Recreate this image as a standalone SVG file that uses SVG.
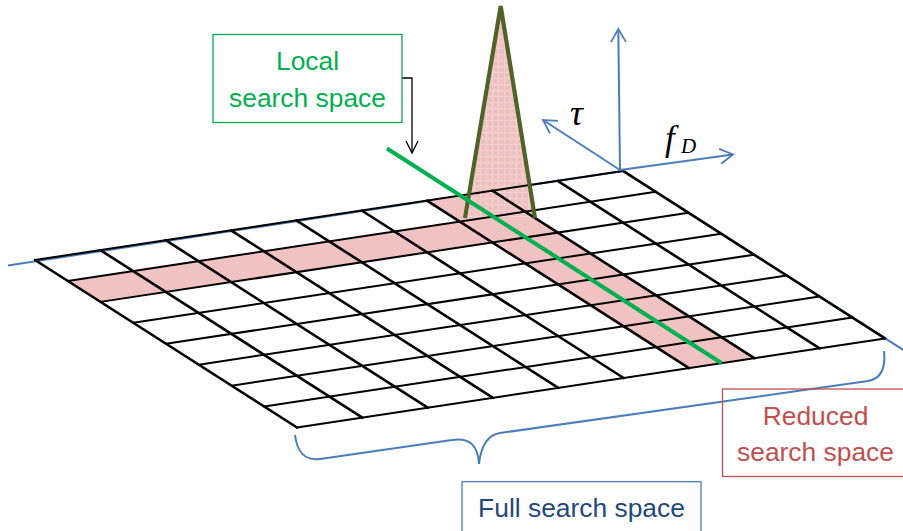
<svg xmlns="http://www.w3.org/2000/svg" width="903" height="531" viewBox="0 0 903 531">
<style>
.row{stroke:#000;stroke-width:2;fill:none;stroke-linecap:round}
.col{stroke:#000;stroke-width:2.6;fill:none;stroke-linecap:round}
.pink{fill:#f0c2c2;stroke:none}
.axis{stroke:#4a7ebb;stroke-width:2;fill:none;marker-end:url(#blueArrow)}
.blueline{stroke:#4a7ebb;stroke-width:2;fill:none}
.lbl{font-family:"Liberation Sans",Arial,sans-serif;font-size:26.4px;text-anchor:middle}
.math{font-family:"Liberation Serif","DejaVu Serif",serif;font-style:italic;fill:#000}
</style>
<defs>
<marker id="blueArrow" markerUnits="userSpaceOnUse" markerWidth="20" markerHeight="20" orient="auto" overflow="visible" refX="0" refY="0">
<path d="M-13,-7.5 L0,0 L-13,7.5" fill="none" stroke="#4a7ebb" stroke-width="1.8"/>
</marker>
<marker id="blackArrow" markerUnits="userSpaceOnUse" markerWidth="20" markerHeight="20" orient="auto" overflow="visible" refX="0" refY="0">
<path d="M-12,-6 L0,0 L-12,6" fill="none" stroke="#000" stroke-width="1.3"/>
</marker>
<pattern id="dots" patternUnits="userSpaceOnUse" width="6" height="6">
<rect width="6" height="6" fill="#f0c3c3"/>
<path d="M0,0.5 H6 M0.5,0 V6" stroke="#f4d0d0" stroke-width="1"/>
<rect x="3" y="3" width="1" height="1" fill="#e6b0b0"/>
</pattern>
</defs>

<g id="background-axes">
<line class="blueline" x1="8" y1="265.5" x2="623" y2="170.9"/>
<line class="blueline" x1="623" y1="170.9" x2="905" y2="351"/>
</g>

<g id="reduced-region">
<polygon class="pink" points="67.75,280.94 459.75,221.54 492.5,242.48 100.5,301.88"/>
<polygon class="pink" points="427,200.6 492.33,190.7 754.33,358.22 689,368.12"/>
</g>

<g id="peak-fill">
<polygon points="500.7,6 535,218 465,218" fill="url(#dots)"/>
</g>

<g id="grid">
<line class="row" x1="35" y1="260" x2="623" y2="170.9"/>
<line class="row" x1="67.75" y1="280.94" x2="655.75" y2="191.84"/>
<line class="row" x1="100.5" y1="301.88" x2="688.5" y2="212.78"/>
<line class="row" x1="133.25" y1="322.82" x2="721.25" y2="233.72"/>
<line class="row" x1="166" y1="343.76" x2="754" y2="254.66"/>
<line class="row" x1="198.75" y1="364.7" x2="786.75" y2="275.6"/>
<line class="row" x1="231.5" y1="385.64" x2="819.5" y2="296.54"/>
<line class="row" x1="264.25" y1="406.58" x2="852.25" y2="317.48"/>
<line class="row" x1="297" y1="427.52" x2="885" y2="338.42"/>
<line class="col" x1="35" y1="260" x2="297" y2="427.52"/>
<line class="col" x1="100.33" y1="250.1" x2="362.33" y2="417.62"/>
<line class="col" x1="165.67" y1="240.2" x2="427.67" y2="407.72"/>
<line class="col" x1="231" y1="230.3" x2="493" y2="397.82"/>
<line class="col" x1="296.33" y1="220.4" x2="558.33" y2="387.92"/>
<line class="col" x1="361.67" y1="210.5" x2="623.67" y2="378.02"/>
<line class="col" x1="427" y1="200.6" x2="689" y2="368.12"/>
<line class="col" x1="492.33" y1="190.7" x2="754.33" y2="358.22"/>
<line class="col" x1="557.67" y1="180.8" x2="819.67" y2="348.32"/>
<line class="col" x1="623" y1="170.9" x2="885" y2="338.42"/>
</g>

<g id="peak">
<polyline points="465,218 500.7,6 535,218" fill="none" stroke="#4f6228" stroke-width="4.2" stroke-linejoin="miter"/>
</g>

<g id="local-line">
<line x1="387" y1="148.5" x2="721.7" y2="363.2" stroke="#00b050" stroke-width="4"/>
</g>

<g id="axes">
<line class="axis" x1="620" y1="170" x2="618.3" y2="29"/>
<line class="axis" x1="620" y1="170" x2="543" y2="120"/>
<line class="axis" x1="620" y1="170" x2="733" y2="154.5"/>
<text class="math" x="570" y="125" font-size="36">τ</text>
<text class="math" x="665" y="150" font-size="35">f</text>
<text class="math" x="681" y="153" font-size="21">D</text>
</g>

<g id="connectors">
<polyline points="402,78 412,78 412,153" fill="none" stroke="#000" stroke-width="1.3" marker-end="url(#blackArrow)"/>
<path d="M295,435 C297,452 305,461 320,459 L452,440 C470,437 478,446 479,464 C481,446 487,435 500,433 L868,381 C880,379 886,370 884,351" class="blueline"/>
</g>

<g id="local-box">
<rect x="213" y="34.5" width="189" height="88" fill="none" stroke="#00b050" stroke-width="1.3"/>
<text class="lbl" x="307.5" y="70" fill="#00b050">Local</text>
<text class="lbl" x="307.5" y="107" fill="#00b050">search space</text>
</g>

<g id="reduced-box">
<rect x="722.5" y="389" width="186" height="87.5" fill="none" stroke="#c0504d" stroke-width="1.3"/>
<text class="lbl" x="815.5" y="425" fill="#c0504d">Reduced</text>
<text class="lbl" x="815.5" y="460.5" fill="#c0504d">search space</text>
</g>

<g id="full-box">
<rect x="462" y="481.7" width="239" height="70" fill="none" stroke="#4a7ebb" stroke-width="1.3"/>
<text class="lbl" x="581.5" y="516.7" fill="#1f497d">Full search space</text>
</g>
</svg>
